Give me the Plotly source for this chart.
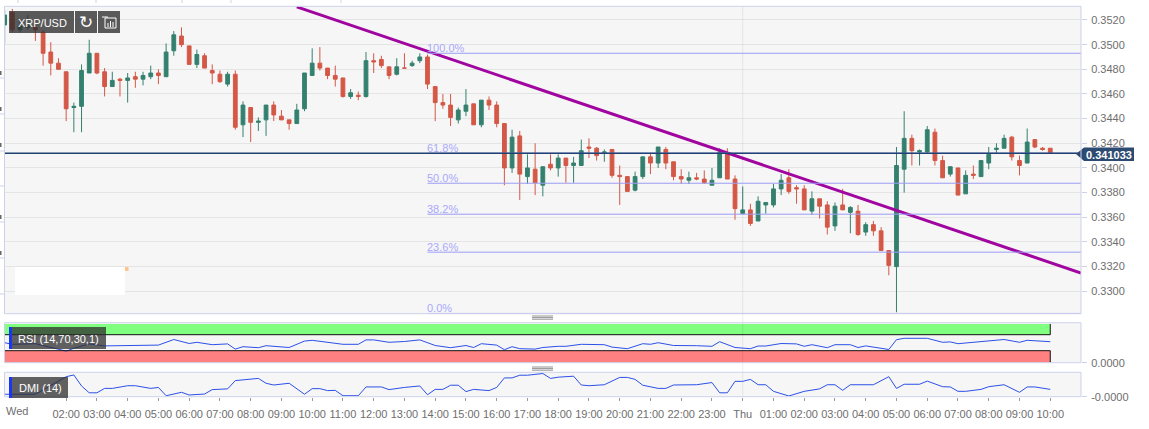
import pandas as pd
import plotly.graph_objects as go

W, H = 1149, 429

opens = [3516,3526,3512,3514,3514,3510,3494,3485,3478,3449,3450,3477,3493,3478,3466,3472,3471,3474,3472,3474,
3477,3474,3495,3507,3499,3484,3491,3479,3476,3468,3476,3435,3449,3437,3439,3451,3442,3439,3436,3448,
3475,3485,3481,3475,3473,3458,3459,3458,3487,3488,3482,3476,3481,3483,3487,3490,3466,3453,3451,3439,
3446,3452,3435,3455,3451,3436,3400,3426,3393,3399,3386,3403,3400,3408,3402,3402,3417,3416,3412,3415,
3394,3393,3382,3393,3409,3404,3415,3405,3393,3390,3392,3391,3386,3392,3412,3391,3363,3366,3357,3370,
3370,3383,3392,3384,3383,3365,3375,3370,3353,3370,3364,3365,3348,3354,3349,3333,3320,3399,3424,3413,
3413,3429,3406,3395,3400,3379,3395,3393,3404,3415,3416,3425,3406,3404,3423,3416,3416]
closes = [3524,3512,3515,3515,3512,3493,3485,3480,3448,3450,3479,3493,3477,3466,3471,3471,3473,3472,3475,3477,
3475,3494,3508,3500,3484,3492,3481,3477,3470,3476,3433,3451,3437,3438,3451,3443,3439,3436,3447,3477,
3485,3481,3475,3472,3458,3461,3458,3487,3486,3483,3475,3482,3481,3485,3490,3468,3453,3451,3441,3447,
3451,3435,3455,3451,3436,3400,3425,3395,3400,3388,3401,3400,3408,3402,3404,3414,3416,3410,3413,3394,
3393,3381,3393,3409,3404,3417,3404,3393,3391,3392,3391,3388,3390,3413,3391,3367,3366,3355,3373,3372,
3383,3390,3381,3383,3366,3375,3369,3352,3369,3366,3368,3346,3354,3349,3333,3321,3402,3424,3414,3414,
3431,3406,3392,3401,3378,3394,3394,3406,3411,3416,3424,3409,3402,3421,3417,3415,3412]
highs = [3528,3529,3520,3524,3520,3512,3502,3489,3478,3453,3484,3504,3493,3481,3478,3473,3477,3478,3478,3483,
3480,3501,3511,3514,3499,3496,3493,3484,3479,3478,3479,3454,3449,3441,3451,3454,3447,3439,3452,3477,
3497,3498,3481,3483,3473,3464,3462,3494,3493,3491,3482,3489,3493,3487,3493,3492,3466,3460,3460,3449,
3464,3452,3455,3458,3454,3436,3431,3430,3411,3420,3401,3411,3411,3408,3409,3423,3424,3417,3415,3415,
3402,3393,3397,3409,3412,3417,3417,3405,3399,3397,3396,3398,3400,3416,3416,3394,3385,3371,3377,3372,
3387,3395,3399,3386,3386,3381,3375,3373,3372,3383,3369,3370,3356,3357,3352,3333,3417,3446,3427,3415,
3434,3432,3410,3401,3400,3398,3402,3406,3417,3420,3427,3426,3410,3432,3423,3417,3416]
lows = [3501,3510,3510,3512,3503,3483,3475,3480,3438,3429,3429,3477,3476,3458,3466,3458,3453,3465,3467,3472,
3468,3474,3491,3498,3484,3481,3481,3468,3469,3466,3431,3425,3421,3430,3426,3438,3439,3431,3436,3446,
3475,3479,3472,3466,3457,3456,3455,3457,3477,3481,3472,3475,3481,3482,3485,3464,3438,3448,3434,3436,
3442,3435,3433,3447,3433,3386,3396,3374,3387,3378,3377,3398,3393,3388,3388,3402,3408,3406,3405,3392,
3370,3381,3381,3391,3395,3400,3399,3390,3387,3387,3390,3387,3386,3392,3391,3358,3363,3353,3357,3363,
3368,3378,3379,3371,3366,3362,3359,3346,3349,3366,3347,3345,3345,3345,3333,3313,3283,3380,3402,3402,
3412,3402,3392,3393,3378,3379,3391,3393,3399,3412,3416,3406,3394,3404,3416,3414,3412]

rsi_idx = [0,1,4,6,8,9,11,13,17,20,22,24,25,27,29,30,31,33,34,37,39,40,44,46,47,48,50,52,54,56,58,60,61,62,64,65,66,67,69,70,72,
73,75,78,79,81,83,84,85,87,90,92,93,95,97,98,99,101,103,104,105,107,108,110,111,112,115,116,117,120,122,123,124,126,128,130,132,133,136]
rsi_val = [50,46,47.5,38,29,36,47,42,42.5,44,58,48,51,45,47,34,40,37.5,42.5,38,54,56,46,46,57,57,51,53,57,43,37.5,43,38,47.5,44,32.5,40,35,34,38,41,
41,46,45,39,35,47.5,46,50,43,42.5,41,52.5,38,35,41.7,41.7,48,47,41,45,37.5,45,45,38,42,33,57.5,61,61,51,52,47.5,51,55,58,51,56,52.5]

dmi_idx = [0,4,8,9,10,11,12,13,14,16,17,19,20,21,23,24,26,27,29,30,33,34,35,37,39,40,41,42,43,44,46,47,49,50,52,54,55,56,57,58,59,60,61,63,64,65,66,67,68,70,71,72,
74,75,76,78,80,81,82,83,85,86,87,90,92,93,94,95,96,97,98,99,100,102,104,106,107,108,109,110,113,115,116,117,119,120,122,123,124,125,127,128,130,132,133,134,136]
dmi_val = [10,10,82,89,44,16,16,34,34,45,45,34,38,4,18,7,11,29,32,66,75,55,48,55,10,33,33,25,26,4,4,40,40,29,38,44,8,30,30,47,47,21,30,25,38,77,77,88,88,95,75,80,
84,48,45,49,79,79,71,47,34,34,48,49,58,16,16,63,63,71,49,49,22,3,22,32,49,49,26,49,49,82,34,51,51,64,41,40,22,22,30,41,49,18,40,40,30]

price_ticks = [0.33 + 0.002 * k for k in range(12)]
hour_labels = ["02:00","03:00","04:00","05:00","06:00","07:00","08:00","09:00","10:00","11:00","12:00","13:00",
               "14:00","15:00","16:00","17:00","18:00","19:00","20:00","21:00","22:00","23:00","Thu",
               "01:00","02:00","03:00","04:00","05:00","06:00","07:00","08:00","09:00","10:00"]
fib_levels = [0.3493, 0.3412, 0.33876, 0.33625, 0.33317, 0.3282]
fib_labels = ["100.0%", "61.8%", "50.0%", "38.2%", "23.6%", "0.0%"]
last_price_level = 0.3412
last_price_label = "0.341033"
trend_idx = [38, 140]
trend_val = [0.35306, 0.33148]

t0 = pd.Timestamp("2018-07-18 00:00")
def T(i):
    return t0 + pd.Timedelta(minutes=15 * i)
times = [T(i) for i in range(len(opens))]
scale = lambda a: [v / 10000 for v in a]

GREEN, RED = "#34806f", "#d45846"
BORDER = "#cdd2ea"
GRAY = "#6e6e6e"
FONT = "Liberation Sans"

def px(x): return x / W
def py(y): return 1 - y / H

fig = go.Figure()
fig.add_trace(go.Candlestick(
    x=times, open=scale(opens), high=scale(highs), low=scale(lows), close=scale(closes),
    increasing=dict(line=dict(color=GREEN, width=1), fillcolor=GREEN),
    decreasing=dict(line=dict(color=RED, width=1), fillcolor=RED),
    whiskerwidth=0, yaxis="y", xaxis="x", showlegend=False, hoverinfo="skip"))
fig.add_trace(go.Scatter(x=[T(i) for i in rsi_idx], y=rsi_val, mode="lines", yaxis="y2", xaxis="x",
                         line=dict(color="#2b50e8", width=1), showlegend=False, hoverinfo="skip"))
fig.add_trace(go.Scatter(x=[T(i) for i in dmi_idx], y=dmi_val, mode="lines", yaxis="y3", xaxis="x",
                         line=dict(color="#2b50e8", width=1), showlegend=False, hoverinfo="skip"))
fig.add_trace(go.Scatter(x=[T(i) for i in trend_idx], y=trend_val, mode="lines", yaxis="y", xaxis="x",
                         line=dict(color="#a0059f", width=3), showlegend=False, hoverinfo="skip"))

shapes, ann = [], []
def rect(x0, y0, x1, y1, fill=None, line=None, lw=1, layer="above"):
    shapes.append(dict(type="rect", xref="paper", yref="paper", x0=px(x0), x1=px(x1), y0=py(y0), y1=py(y1),
                       fillcolor=fill or "rgba(0,0,0,0)", line=dict(color=line or "rgba(0,0,0,0)", width=lw if line else 0), layer=layer))
def seg(x0, y0, x1, y1, color, lw=1, layer="above"):
    shapes.append(dict(type="line", xref="paper", yref="paper", x0=px(x0), x1=px(x1), y0=py(y0), y1=py(y1),
                       line=dict(color=color, width=lw), layer=layer))
def text(x, y, s, color="#ffffff", size=11, anchor="left", **kw):
    ann.append(dict(xref="paper", yref="paper", x=px(x), y=py(y), text=s, showarrow=False, xanchor=anchor, yanchor="middle",
                    font=dict(family=FONT, size=size, color=color), xshift=0, yshift=0, **kw))

for lo, hi, col in [(70, 97, "#80ff80"), (0, 30, "#ff8080")]:
    shapes.append(dict(type="rect", xref="x", yref="y2", x0=T(0), x1=T(136), y0=lo, y1=hi, fillcolor=col,
                       line=dict(width=0), layer="below"))
for lvl in (70, 30):
    shapes.append(dict(type="line", xref="x", yref="y2", x0=T(0), x1=T(136), y0=lvl, y1=lvl,
                       line=dict(color="#111111", width=1), layer="above"))
shapes.append(dict(type="line", xref="x", yref="y2", x0=T(136), x1=T(136), y0=70, y1=97, line=dict(color="#111111", width=1)))
shapes.append(dict(type="line", xref="x", yref="y2", x0=T(136), x1=T(136), y0=0, y1=30, line=dict(color="#111111", width=1)))
shapes.append(dict(type="line", xref="x", yref="paper", x0=T(96), x1=T(96), y0=py(396.5), y1=py(6.5),
                   line=dict(color="rgba(0,0,0,0.07)", width=1), layer="above"))

for lvl, lab in zip(fib_levels, fib_labels):
    shapes.append(dict(type="line", xref="x", yref="y", x0=T(55), x1=T(140), y0=lvl, y1=lvl,
                       line=dict(color="#9c9cf5", width=1), layer="above"))
    ann.append(dict(xref="x", yref="y", x=T(55), y=lvl, text=lab, showarrow=False, xanchor="left", yanchor="bottom",
                    xshift=-3, yshift=-3, font=dict(family=FONT, size=11, color="#a9a9fb")))
shapes.append(dict(type="line", xref="x", yref="y", x0=T(-1), x1=T(140), y0=last_price_level, y1=last_price_level,
                   line=dict(color="#1f4272", width=1.5), layer="above"))
shapes.append(dict(type="path", xref="paper", yref="paper", fillcolor="#2d4a72", line=dict(width=0),
                   path=f"M {px(1076)} {py(154)} L {px(1084)} {py(147.5)} L {px(1134)} {py(147.5)} L {px(1134)} {py(161)} L {px(1084)} {py(161)} Z"))
text(1109, 154.5, f"<b>{last_price_label}</b>", anchor="center", size=11)

for y0, y1 in [(6.3, 313.7), (322.7, 362.7), (372.3, 396.7)]:
    rect(4.5, y0, 1081, y1, line=BORDER, lw=1)

rect(9, 11, 74, 33, fill="rgba(45,45,45,0.78)")
rect(75, 11, 97, 33, fill="rgba(45,45,45,0.78)")
rect(98, 11, 120, 33, fill="rgba(45,45,45,0.78)")
text(42, 22.5, "XRP/USD", anchor="center", size=11)
ann.append(dict(xref="paper", yref="paper", x=px(86), y=py(22), text="↻", showarrow=False, xanchor="center", yanchor="middle",
                font=dict(family="DejaVu Sans", size=17, color="#ffffff")))
rect(105, 18, 116, 28, line="#ffffff", lw=1)
seg(102, 17, 108, 17, "#ffffff")
for xx, top in [(108, 23), (110.5, 21), (113, 22)]:
    seg(xx, top, xx, 27, "#ffffff")

for x1, y0, y1, lab, cx in [(106, 327, 349, "RSI (14,70,30,1)", 57), (68, 377, 398, "DMI (14)", 39)]:
    rect(9, y0, x1, y1, fill="rgba(45,45,45,0.75)")
    rect(9, y0, 12, y1, fill="#1a36f0")
    text(cx + 1, (y0 + y1) / 2 + 0.5, lab, anchor="center", size=11)

rect(15, 267, 125, 295, fill="#ffffff")
rect(125, 267, 128.5, 271, fill="#ffc58a")

for yb in (316, 367):
    for k in range(3):
        seg(532, yb + k * 1.6, 553, yb + k * 1.6, "#777777", 0.8)

for xx in (18, 96, 182, 231, 341):
    seg(xx, 0, xx, 3, BORDER)
for yy in (78, 114, 151, 186, 222, 258, 294):
    seg(0, yy, 4, yy, BORDER)
for yy in (73, 109, 145, 217, 253):
    seg(0, yy - 2, 0, yy + 2, "#666666", 3)

text(4, 410.5, "Wed", color=GRAY, size=11)

fig.update_layout(
    width=W, height=H, margin=dict(l=0, r=0, t=0, b=0), autosize=False,
    paper_bgcolor="#ffffff", plot_bgcolor="#f6f6f6",
    font=dict(family=FONT, size=11, color=GRAY),
    shapes=shapes, annotations=ann, showlegend=False,
    xaxis=dict(domain=[px(4.5), px(1081)], anchor="y3", type="date", range=[T(-0.02), T(140)], rangeslider=dict(visible=False),
               automargin=False,
               showgrid=False, zeroline=False, showline=False, tickangle=0,
               tickmode="array", tickvals=[T(8 + 4 * k) for k in range(len(hour_labels))], ticktext=hour_labels,
               ticks="outside", ticklen=3, tickcolor="#999999", tickfont=dict(family=FONT, size=11, color=GRAY),
               ticklabelstandoff=4),
    yaxis=dict(domain=[py(313.7), py(6.3)], anchor="x", side="right", range=[0.32818, 0.35311], automargin=False,
               tickmode="array", tickvals=price_ticks, ticktext=[f"{v:.4f}" for v in price_ticks],
               ticks="outside", ticklen=5, tickcolor=BORDER, gridcolor="#e4e4e4", gridwidth=1, zeroline=False,
               showline=False, tickfont=dict(family=FONT, size=11, color=GRAY), ticklabelstandoff=2),
    yaxis2=dict(domain=[py(362.7), py(322.7)], anchor="x", side="right", range=[0, 100], showgrid=False, zeroline=False,
                automargin=False,
                tickmode="array", tickvals=[0], ticktext=["0.0000"], ticks="outside", ticklen=5, tickcolor=BORDER,
                tickfont=dict(family=FONT, size=11, color=GRAY), ticklabelstandoff=2),
    yaxis3=dict(domain=[py(396.7), py(372.3)], anchor="x", side="right", range=[0, 100], showgrid=False, zeroline=False,
                automargin=False,
                tickmode="array", tickvals=[0], ticktext=["-0.0000"], ticks="outside", ticklen=5, tickcolor=BORDER,
                tickfont=dict(family=FONT, size=11, color=GRAY), ticklabelstandoff=2),
)
fig.write_html("out.html", config=dict(displayModeBar=False),
               post_script="document.body.style.margin='0';document.body.style.overflow='hidden';")
